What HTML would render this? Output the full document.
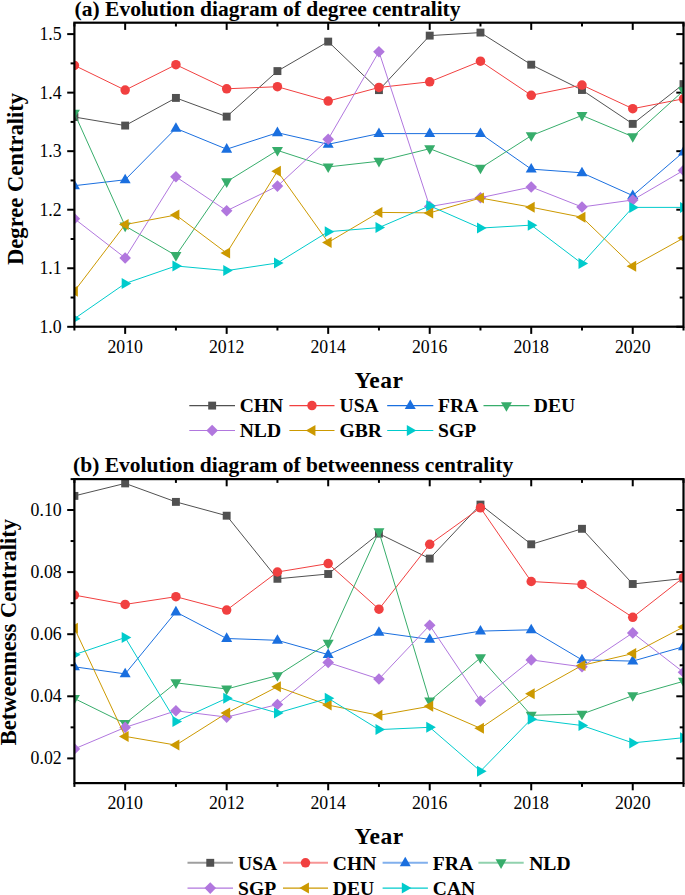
<!DOCTYPE html>
<html><head><meta charset="utf-8"><title>Centrality evolution</title>
<style>
html,body{margin:0;padding:0;background:#fff;}
body{width:685px;height:895px;overflow:hidden;}
svg{display:block;}
text{font-family:"Liberation Serif",serif;fill:#000;}
.tk{font-size:17.8px;}
.ttl{font-size:21.5px;font-weight:bold;}
.ax{font-size:22.6px;font-weight:bold;}
.yr{font-size:23.5px;font-weight:bold;letter-spacing:0.5px;}
.lg{font-size:19.6px;font-weight:bold;}
</style></head><body>
<svg width="685" height="895" viewBox="0 0 685 895">
<defs><clipPath id="ca"><rect x="74.40" y="22.70" width="609.10" height="304.00"/></clipPath>
<clipPath id="cb"><rect x="74.40" y="479.10" width="609.10" height="304.00"/></clipPath></defs>
<rect width="685" height="895" fill="#fff"/>
<text x="74.6" y="15.5" class="ttl">(a) Evolution diagram of degree centrality</text>
<line x1="74.40" y1="326.70" x2="74.40" y2="330.50" stroke="#000" stroke-width="2.0"/>
<line x1="74.40" y1="22.70" x2="74.40" y2="26.50" stroke="#000" stroke-width="2.0"/>
<line x1="125.16" y1="326.70" x2="125.16" y2="333.90" stroke="#000" stroke-width="2.0"/>
<line x1="125.16" y1="22.70" x2="125.16" y2="29.90" stroke="#000" stroke-width="2.0"/>
<line x1="175.92" y1="326.70" x2="175.92" y2="330.50" stroke="#000" stroke-width="2.0"/>
<line x1="175.92" y1="22.70" x2="175.92" y2="26.50" stroke="#000" stroke-width="2.0"/>
<line x1="226.67" y1="326.70" x2="226.67" y2="333.90" stroke="#000" stroke-width="2.0"/>
<line x1="226.67" y1="22.70" x2="226.67" y2="29.90" stroke="#000" stroke-width="2.0"/>
<line x1="277.43" y1="326.70" x2="277.43" y2="330.50" stroke="#000" stroke-width="2.0"/>
<line x1="277.43" y1="22.70" x2="277.43" y2="26.50" stroke="#000" stroke-width="2.0"/>
<line x1="328.19" y1="326.70" x2="328.19" y2="333.90" stroke="#000" stroke-width="2.0"/>
<line x1="328.19" y1="22.70" x2="328.19" y2="29.90" stroke="#000" stroke-width="2.0"/>
<line x1="378.95" y1="326.70" x2="378.95" y2="330.50" stroke="#000" stroke-width="2.0"/>
<line x1="378.95" y1="22.70" x2="378.95" y2="26.50" stroke="#000" stroke-width="2.0"/>
<line x1="429.71" y1="326.70" x2="429.71" y2="333.90" stroke="#000" stroke-width="2.0"/>
<line x1="429.71" y1="22.70" x2="429.71" y2="29.90" stroke="#000" stroke-width="2.0"/>
<line x1="480.46" y1="326.70" x2="480.46" y2="330.50" stroke="#000" stroke-width="2.0"/>
<line x1="480.46" y1="22.70" x2="480.46" y2="26.50" stroke="#000" stroke-width="2.0"/>
<line x1="531.22" y1="326.70" x2="531.22" y2="333.90" stroke="#000" stroke-width="2.0"/>
<line x1="531.22" y1="22.70" x2="531.22" y2="29.90" stroke="#000" stroke-width="2.0"/>
<line x1="581.98" y1="326.70" x2="581.98" y2="330.50" stroke="#000" stroke-width="2.0"/>
<line x1="581.98" y1="22.70" x2="581.98" y2="26.50" stroke="#000" stroke-width="2.0"/>
<line x1="632.74" y1="326.70" x2="632.74" y2="333.90" stroke="#000" stroke-width="2.0"/>
<line x1="632.74" y1="22.70" x2="632.74" y2="29.90" stroke="#000" stroke-width="2.0"/>
<line x1="683.50" y1="326.70" x2="683.50" y2="330.50" stroke="#000" stroke-width="2.0"/>
<line x1="683.50" y1="22.70" x2="683.50" y2="26.50" stroke="#000" stroke-width="2.0"/>
<line x1="67.20" y1="326.80" x2="74.40" y2="326.80" stroke="#000" stroke-width="2.0"/>
<line x1="676.30" y1="326.80" x2="683.50" y2="326.80" stroke="#000" stroke-width="2.0"/>
<line x1="67.20" y1="268.26" x2="74.40" y2="268.26" stroke="#000" stroke-width="2.0"/>
<line x1="676.30" y1="268.26" x2="683.50" y2="268.26" stroke="#000" stroke-width="2.0"/>
<line x1="67.20" y1="209.72" x2="74.40" y2="209.72" stroke="#000" stroke-width="2.0"/>
<line x1="676.30" y1="209.72" x2="683.50" y2="209.72" stroke="#000" stroke-width="2.0"/>
<line x1="67.20" y1="151.18" x2="74.40" y2="151.18" stroke="#000" stroke-width="2.0"/>
<line x1="676.30" y1="151.18" x2="683.50" y2="151.18" stroke="#000" stroke-width="2.0"/>
<line x1="67.20" y1="92.64" x2="74.40" y2="92.64" stroke="#000" stroke-width="2.0"/>
<line x1="676.30" y1="92.64" x2="683.50" y2="92.64" stroke="#000" stroke-width="2.0"/>
<line x1="67.20" y1="34.10" x2="74.40" y2="34.10" stroke="#000" stroke-width="2.0"/>
<line x1="676.30" y1="34.10" x2="683.50" y2="34.10" stroke="#000" stroke-width="2.0"/>
<line x1="70.60" y1="297.53" x2="74.40" y2="297.53" stroke="#000" stroke-width="2.0"/>
<line x1="679.70" y1="297.53" x2="683.50" y2="297.53" stroke="#000" stroke-width="2.0"/>
<line x1="70.60" y1="238.99" x2="74.40" y2="238.99" stroke="#000" stroke-width="2.0"/>
<line x1="679.70" y1="238.99" x2="683.50" y2="238.99" stroke="#000" stroke-width="2.0"/>
<line x1="70.60" y1="180.45" x2="74.40" y2="180.45" stroke="#000" stroke-width="2.0"/>
<line x1="679.70" y1="180.45" x2="683.50" y2="180.45" stroke="#000" stroke-width="2.0"/>
<line x1="70.60" y1="121.91" x2="74.40" y2="121.91" stroke="#000" stroke-width="2.0"/>
<line x1="679.70" y1="121.91" x2="683.50" y2="121.91" stroke="#000" stroke-width="2.0"/>
<line x1="70.60" y1="63.37" x2="74.40" y2="63.37" stroke="#000" stroke-width="2.0"/>
<line x1="679.70" y1="63.37" x2="683.50" y2="63.37" stroke="#000" stroke-width="2.0"/>
<g clip-path="url(#ca)"><polyline points="74.40,117.02 125.16,125.57 175.92,97.92 226.67,116.61 277.43,71.08 328.19,41.60 378.95,90.12 429.71,35.62 480.46,32.58 531.22,64.69 581.98,90.00 632.74,123.88 683.50,84.09" fill="none" stroke="#515151" stroke-width="1.0" stroke-linejoin="round"/>
<rect x="70.45" y="113.07" width="7.90" height="7.90" fill="#515151"/>
<rect x="121.21" y="121.62" width="7.90" height="7.90" fill="#515151"/>
<rect x="171.97" y="93.97" width="7.90" height="7.90" fill="#515151"/>
<rect x="222.72" y="112.66" width="7.90" height="7.90" fill="#515151"/>
<rect x="273.48" y="67.13" width="7.90" height="7.90" fill="#515151"/>
<rect x="324.24" y="37.65" width="7.90" height="7.90" fill="#515151"/>
<rect x="375.00" y="86.17" width="7.90" height="7.90" fill="#515151"/>
<rect x="425.76" y="31.67" width="7.90" height="7.90" fill="#515151"/>
<rect x="476.51" y="28.63" width="7.90" height="7.90" fill="#515151"/>
<rect x="527.27" y="60.74" width="7.90" height="7.90" fill="#515151"/>
<rect x="578.03" y="86.05" width="7.90" height="7.90" fill="#515151"/>
<rect x="628.79" y="119.93" width="7.90" height="7.90" fill="#515151"/>
<rect x="679.55" y="80.14" width="7.90" height="7.90" fill="#515151"/>
<polyline points="74.40,65.39 125.16,90.12 175.92,64.69 226.67,88.77 277.43,86.72 328.19,101.08 378.95,87.48 429.71,81.80 480.46,61.23 531.22,95.28 581.98,85.02 632.74,108.70 683.50,98.79" fill="none" stroke="#F14040" stroke-width="1.0" stroke-linejoin="round"/>
<circle cx="74.40" cy="65.39" r="4.75" fill="#F14040"/>
<circle cx="125.16" cy="90.12" r="4.75" fill="#F14040"/>
<circle cx="175.92" cy="64.69" r="4.75" fill="#F14040"/>
<circle cx="226.67" cy="88.77" r="4.75" fill="#F14040"/>
<circle cx="277.43" cy="86.72" r="4.75" fill="#F14040"/>
<circle cx="328.19" cy="101.08" r="4.75" fill="#F14040"/>
<circle cx="378.95" cy="87.48" r="4.75" fill="#F14040"/>
<circle cx="429.71" cy="81.80" r="4.75" fill="#F14040"/>
<circle cx="480.46" cy="61.23" r="4.75" fill="#F14040"/>
<circle cx="531.22" cy="95.28" r="4.75" fill="#F14040"/>
<circle cx="581.98" cy="85.02" r="4.75" fill="#F14040"/>
<circle cx="632.74" cy="108.70" r="4.75" fill="#F14040"/>
<circle cx="683.50" cy="98.79" r="4.75" fill="#F14040"/>
<polyline points="74.40,185.70 125.16,179.78 175.92,128.39 226.67,149.19 277.43,132.73 328.19,144.27 378.95,133.61 429.71,133.61 480.46,133.61 531.22,169.12 581.98,172.81 632.74,195.61 683.50,152.01" fill="none" stroke="#1A6FDF" stroke-width="1.0" stroke-linejoin="round"/>
<path d="M74.40 179.55L79.90 189.15L68.90 189.15Z" fill="#1A6FDF"/>
<path d="M125.16 173.64L130.66 183.24L119.66 183.24Z" fill="#1A6FDF"/>
<path d="M175.92 122.25L181.42 131.85L170.42 131.85Z" fill="#1A6FDF"/>
<path d="M226.67 143.05L232.17 152.65L221.17 152.65Z" fill="#1A6FDF"/>
<path d="M277.43 126.58L282.93 136.18L271.93 136.18Z" fill="#1A6FDF"/>
<path d="M328.19 138.13L333.69 147.73L322.69 147.73Z" fill="#1A6FDF"/>
<path d="M378.95 127.46L384.45 137.06L373.45 137.06Z" fill="#1A6FDF"/>
<path d="M429.71 127.46L435.21 137.06L424.21 137.06Z" fill="#1A6FDF"/>
<path d="M480.46 127.46L485.96 137.06L474.96 137.06Z" fill="#1A6FDF"/>
<path d="M531.22 162.97L536.72 172.57L525.72 172.57Z" fill="#1A6FDF"/>
<path d="M581.98 166.67L587.48 176.27L576.48 176.27Z" fill="#1A6FDF"/>
<path d="M632.74 189.46L638.24 199.06L627.24 199.06Z" fill="#1A6FDF"/>
<path d="M683.50 145.86L689.00 155.46L678.00 155.46Z" fill="#1A6FDF"/>
<polyline points="74.40,113.18 125.16,225.99 175.92,255.52 226.67,181.74 277.43,150.39 328.19,166.92 378.95,161.23 429.71,148.69 480.46,168.09 531.22,135.68 581.98,115.41 632.74,136.68 683.50,90.68" fill="none" stroke="#37AD6B" stroke-width="1.0" stroke-linejoin="round"/>
<path d="M74.40 119.33L79.90 109.73L68.90 109.73Z" fill="#37AD6B"/>
<path d="M125.16 232.13L130.66 222.53L119.66 222.53Z" fill="#37AD6B"/>
<path d="M175.92 261.67L181.42 252.07L170.42 252.07Z" fill="#37AD6B"/>
<path d="M226.67 187.89L232.17 178.29L221.17 178.29Z" fill="#37AD6B"/>
<path d="M277.43 156.54L282.93 146.94L271.93 146.94Z" fill="#37AD6B"/>
<path d="M328.19 173.06L333.69 163.46L322.69 163.46Z" fill="#37AD6B"/>
<path d="M378.95 167.38L384.45 157.78L373.45 157.78Z" fill="#37AD6B"/>
<path d="M429.71 154.84L435.21 145.24L424.21 145.24Z" fill="#37AD6B"/>
<path d="M480.46 174.23L485.96 164.63L474.96 164.63Z" fill="#37AD6B"/>
<path d="M531.22 141.83L536.72 132.23L525.72 132.23Z" fill="#37AD6B"/>
<path d="M581.98 121.55L587.48 111.95L576.48 111.95Z" fill="#37AD6B"/>
<path d="M632.74 142.82L638.24 133.22L627.24 133.22Z" fill="#37AD6B"/>
<path d="M683.50 96.82L689.00 87.22L678.00 87.22Z" fill="#37AD6B"/>
<polyline points="74.40,218.69 125.16,257.95 175.92,176.79 226.67,210.78 277.43,186.11 328.19,139.23 378.95,51.68 429.71,206.62 480.46,197.71 531.22,186.99 581.98,206.97 632.74,200.00 683.50,170.40" fill="none" stroke="#B177DE" stroke-width="1.0" stroke-linejoin="round"/>
<path d="M74.40 212.89L80.20 218.69L74.40 224.49L68.60 218.69Z" fill="#B177DE"/>
<path d="M125.16 252.15L130.96 257.95L125.16 263.75L119.36 257.95Z" fill="#B177DE"/>
<path d="M175.92 170.99L181.72 176.79L175.92 182.59L170.12 176.79Z" fill="#B177DE"/>
<path d="M226.67 204.98L232.47 210.78L226.67 216.58L220.87 210.78Z" fill="#B177DE"/>
<path d="M277.43 180.31L283.23 186.11L277.43 191.91L271.63 186.11Z" fill="#B177DE"/>
<path d="M328.19 133.43L333.99 139.23L328.19 145.03L322.39 139.23Z" fill="#B177DE"/>
<path d="M378.95 45.88L384.75 51.68L378.95 57.48L373.15 51.68Z" fill="#B177DE"/>
<path d="M429.71 200.82L435.51 206.62L429.71 212.42L423.91 206.62Z" fill="#B177DE"/>
<path d="M480.46 191.91L486.26 197.71L480.46 203.51L474.66 197.71Z" fill="#B177DE"/>
<path d="M531.22 181.19L537.02 186.99L531.22 192.79L525.42 186.99Z" fill="#B177DE"/>
<path d="M581.98 201.17L587.78 206.97L581.98 212.77L576.18 206.97Z" fill="#B177DE"/>
<path d="M632.74 194.20L638.54 200.00L632.74 205.80L626.94 200.00Z" fill="#B177DE"/>
<path d="M683.50 164.60L689.30 170.40L683.50 176.20L677.70 170.40Z" fill="#B177DE"/>
<polyline points="74.40,291.18 125.16,224.55 175.92,215.00 226.67,253.09 277.43,171.22 328.19,242.42 378.95,212.42 429.71,212.89 480.46,198.00 531.22,207.20 581.98,217.28 632.74,266.21 683.50,238.03" fill="none" stroke="#CC9900" stroke-width="1.0" stroke-linejoin="round"/>
<path d="M68.26 291.18L77.86 285.68L77.86 296.68Z" fill="#CC9900"/>
<path d="M119.01 224.55L128.61 219.05L128.61 230.05Z" fill="#CC9900"/>
<path d="M169.77 215.00L179.37 209.50L179.37 220.50Z" fill="#CC9900"/>
<path d="M220.53 253.09L230.13 247.59L230.13 258.59Z" fill="#CC9900"/>
<path d="M271.29 171.22L280.89 165.72L280.89 176.72Z" fill="#CC9900"/>
<path d="M322.05 242.42L331.65 236.92L331.65 247.92Z" fill="#CC9900"/>
<path d="M372.80 212.42L382.40 206.92L382.40 217.92Z" fill="#CC9900"/>
<path d="M423.56 212.89L433.16 207.39L433.16 218.39Z" fill="#CC9900"/>
<path d="M474.32 198.00L483.92 192.50L483.92 203.50Z" fill="#CC9900"/>
<path d="M525.08 207.20L534.68 201.70L534.68 212.70Z" fill="#CC9900"/>
<path d="M575.84 217.28L585.44 211.78L585.44 222.78Z" fill="#CC9900"/>
<path d="M626.59 266.21L636.19 260.71L636.19 271.71Z" fill="#CC9900"/>
<path d="M677.35 238.03L686.95 232.53L686.95 243.53Z" fill="#CC9900"/>
<polyline points="74.40,318.72 125.16,283.50 175.92,265.98 226.67,270.61 277.43,262.99 328.19,231.70 378.95,227.60 429.71,205.80 480.46,228.07 531.22,225.14 581.98,263.58 632.74,207.38 683.50,207.38" fill="none" stroke="#00CBCC" stroke-width="1.0" stroke-linejoin="round"/>
<path d="M80.54 318.72L70.94 313.22L70.94 324.22Z" fill="#00CBCC"/>
<path d="M131.30 283.50L121.70 278.00L121.70 289.00Z" fill="#00CBCC"/>
<path d="M182.06 265.98L172.46 260.48L172.46 271.48Z" fill="#00CBCC"/>
<path d="M232.82 270.61L223.22 265.11L223.22 276.11Z" fill="#00CBCC"/>
<path d="M283.58 262.99L273.98 257.49L273.98 268.49Z" fill="#00CBCC"/>
<path d="M334.33 231.70L324.73 226.20L324.73 237.20Z" fill="#00CBCC"/>
<path d="M385.09 227.60L375.49 222.10L375.49 233.10Z" fill="#00CBCC"/>
<path d="M435.85 205.80L426.25 200.30L426.25 211.30Z" fill="#00CBCC"/>
<path d="M486.61 228.07L477.01 222.57L477.01 233.57Z" fill="#00CBCC"/>
<path d="M537.37 225.14L527.77 219.64L527.77 230.64Z" fill="#00CBCC"/>
<path d="M588.12 263.58L578.52 258.08L578.52 269.08Z" fill="#00CBCC"/>
<path d="M638.88 207.38L629.28 201.88L629.28 212.88Z" fill="#00CBCC"/>
<path d="M689.64 207.38L680.04 201.88L680.04 212.88Z" fill="#00CBCC"/></g>
<rect x="74.40" y="22.70" width="609.10" height="304.00" fill="none" stroke="#000" stroke-width="2.2"/>
<text x="61.7" y="332.70" text-anchor="end" class="tk">1.0</text>
<text x="61.7" y="274.16" text-anchor="end" class="tk">1.1</text>
<text x="61.7" y="215.62" text-anchor="end" class="tk">1.2</text>
<text x="61.7" y="157.08" text-anchor="end" class="tk">1.3</text>
<text x="61.7" y="98.54" text-anchor="end" class="tk">1.4</text>
<text x="61.7" y="40.00" text-anchor="end" class="tk">1.5</text>
<text x="125.16" y="352.70" text-anchor="middle" class="tk">2010</text>
<text x="226.67" y="352.70" text-anchor="middle" class="tk">2012</text>
<text x="328.19" y="352.70" text-anchor="middle" class="tk">2014</text>
<text x="429.71" y="352.70" text-anchor="middle" class="tk">2016</text>
<text x="531.22" y="352.70" text-anchor="middle" class="tk">2018</text>
<text x="632.74" y="352.70" text-anchor="middle" class="tk">2020</text>
<text transform="translate(22.5 178.95) rotate(-90)" text-anchor="middle" class="ax">Degree Centrality</text>
<text x="379.0" y="387.5" text-anchor="middle" class="yr">Year</text>
<line x1="189.30" y1="405.60" x2="235.00" y2="405.60" stroke="#515151" stroke-width="1.15"/>
<rect x="208.20" y="401.65" width="7.90" height="7.90" fill="#515151"/>
<text x="239.70" y="412.30" class="lg">CHN</text>
<line x1="289.40" y1="405.60" x2="334.50" y2="405.60" stroke="#F14040" stroke-width="1.15"/>
<circle cx="311.95" cy="405.60" r="4.75" fill="#F14040"/>
<text x="339.50" y="412.30" class="lg">USA</text>
<line x1="387.20" y1="405.60" x2="433.30" y2="405.60" stroke="#1A6FDF" stroke-width="1.15"/>
<path d="M410.25 399.46L415.75 409.06L404.75 409.06Z" fill="#1A6FDF"/>
<text x="438.10" y="412.30" class="lg">FRA</text>
<line x1="483.50" y1="405.60" x2="529.40" y2="405.60" stroke="#37AD6B" stroke-width="1.15"/>
<path d="M506.45 411.74L511.95 402.14L500.95 402.14Z" fill="#37AD6B"/>
<text x="533.80" y="412.30" class="lg">DEU</text>
<line x1="189.30" y1="430.50" x2="235.00" y2="430.50" stroke="#B177DE" stroke-width="1.15"/>
<path d="M212.15 424.70L217.95 430.50L212.15 436.30L206.35 430.50Z" fill="#B177DE"/>
<text x="239.70" y="437.20" class="lg">NLD</text>
<line x1="289.40" y1="430.50" x2="334.50" y2="430.50" stroke="#CC9900" stroke-width="1.15"/>
<path d="M305.81 430.50L315.41 425.00L315.41 436.00Z" fill="#CC9900"/>
<text x="339.50" y="437.20" class="lg">GBR</text>
<line x1="387.20" y1="430.50" x2="433.30" y2="430.50" stroke="#00CBCC" stroke-width="1.15"/>
<path d="M416.39 430.50L406.79 425.00L406.79 436.00Z" fill="#00CBCC"/>
<text x="438.10" y="437.20" class="lg">SGP</text>
<text x="73.1" y="471.9" class="ttl">(b) Evolution diagram of betweenness centrality</text>
<line x1="74.40" y1="783.10" x2="74.40" y2="786.90" stroke="#000" stroke-width="2.0"/>
<line x1="74.40" y1="479.10" x2="74.40" y2="482.90" stroke="#000" stroke-width="2.0"/>
<line x1="125.16" y1="783.10" x2="125.16" y2="790.30" stroke="#000" stroke-width="2.0"/>
<line x1="125.16" y1="479.10" x2="125.16" y2="486.30" stroke="#000" stroke-width="2.0"/>
<line x1="175.92" y1="783.10" x2="175.92" y2="786.90" stroke="#000" stroke-width="2.0"/>
<line x1="175.92" y1="479.10" x2="175.92" y2="482.90" stroke="#000" stroke-width="2.0"/>
<line x1="226.67" y1="783.10" x2="226.67" y2="790.30" stroke="#000" stroke-width="2.0"/>
<line x1="226.67" y1="479.10" x2="226.67" y2="486.30" stroke="#000" stroke-width="2.0"/>
<line x1="277.43" y1="783.10" x2="277.43" y2="786.90" stroke="#000" stroke-width="2.0"/>
<line x1="277.43" y1="479.10" x2="277.43" y2="482.90" stroke="#000" stroke-width="2.0"/>
<line x1="328.19" y1="783.10" x2="328.19" y2="790.30" stroke="#000" stroke-width="2.0"/>
<line x1="328.19" y1="479.10" x2="328.19" y2="486.30" stroke="#000" stroke-width="2.0"/>
<line x1="378.95" y1="783.10" x2="378.95" y2="786.90" stroke="#000" stroke-width="2.0"/>
<line x1="378.95" y1="479.10" x2="378.95" y2="482.90" stroke="#000" stroke-width="2.0"/>
<line x1="429.71" y1="783.10" x2="429.71" y2="790.30" stroke="#000" stroke-width="2.0"/>
<line x1="429.71" y1="479.10" x2="429.71" y2="486.30" stroke="#000" stroke-width="2.0"/>
<line x1="480.46" y1="783.10" x2="480.46" y2="786.90" stroke="#000" stroke-width="2.0"/>
<line x1="480.46" y1="479.10" x2="480.46" y2="482.90" stroke="#000" stroke-width="2.0"/>
<line x1="531.22" y1="783.10" x2="531.22" y2="790.30" stroke="#000" stroke-width="2.0"/>
<line x1="531.22" y1="479.10" x2="531.22" y2="486.30" stroke="#000" stroke-width="2.0"/>
<line x1="581.98" y1="783.10" x2="581.98" y2="786.90" stroke="#000" stroke-width="2.0"/>
<line x1="581.98" y1="479.10" x2="581.98" y2="482.90" stroke="#000" stroke-width="2.0"/>
<line x1="632.74" y1="783.10" x2="632.74" y2="790.30" stroke="#000" stroke-width="2.0"/>
<line x1="632.74" y1="479.10" x2="632.74" y2="486.30" stroke="#000" stroke-width="2.0"/>
<line x1="683.50" y1="783.10" x2="683.50" y2="786.90" stroke="#000" stroke-width="2.0"/>
<line x1="683.50" y1="479.10" x2="683.50" y2="482.90" stroke="#000" stroke-width="2.0"/>
<line x1="67.20" y1="758.40" x2="74.40" y2="758.40" stroke="#000" stroke-width="2.0"/>
<line x1="676.30" y1="758.40" x2="683.50" y2="758.40" stroke="#000" stroke-width="2.0"/>
<line x1="67.20" y1="696.30" x2="74.40" y2="696.30" stroke="#000" stroke-width="2.0"/>
<line x1="676.30" y1="696.30" x2="683.50" y2="696.30" stroke="#000" stroke-width="2.0"/>
<line x1="67.20" y1="634.20" x2="74.40" y2="634.20" stroke="#000" stroke-width="2.0"/>
<line x1="676.30" y1="634.20" x2="683.50" y2="634.20" stroke="#000" stroke-width="2.0"/>
<line x1="67.20" y1="572.10" x2="74.40" y2="572.10" stroke="#000" stroke-width="2.0"/>
<line x1="676.30" y1="572.10" x2="683.50" y2="572.10" stroke="#000" stroke-width="2.0"/>
<line x1="67.20" y1="510.00" x2="74.40" y2="510.00" stroke="#000" stroke-width="2.0"/>
<line x1="676.30" y1="510.00" x2="683.50" y2="510.00" stroke="#000" stroke-width="2.0"/>
<line x1="70.60" y1="727.35" x2="74.40" y2="727.35" stroke="#000" stroke-width="2.0"/>
<line x1="679.70" y1="727.35" x2="683.50" y2="727.35" stroke="#000" stroke-width="2.0"/>
<line x1="70.60" y1="665.25" x2="74.40" y2="665.25" stroke="#000" stroke-width="2.0"/>
<line x1="679.70" y1="665.25" x2="683.50" y2="665.25" stroke="#000" stroke-width="2.0"/>
<line x1="70.60" y1="603.15" x2="74.40" y2="603.15" stroke="#000" stroke-width="2.0"/>
<line x1="679.70" y1="603.15" x2="683.50" y2="603.15" stroke="#000" stroke-width="2.0"/>
<line x1="70.60" y1="541.05" x2="74.40" y2="541.05" stroke="#000" stroke-width="2.0"/>
<line x1="679.70" y1="541.05" x2="683.50" y2="541.05" stroke="#000" stroke-width="2.0"/>
<line x1="70.60" y1="479.10" x2="74.40" y2="479.10" stroke="#000" stroke-width="2.0"/>
<line x1="679.70" y1="479.10" x2="683.50" y2="479.10" stroke="#000" stroke-width="2.0"/>
<g clip-path="url(#cb)"><polyline points="74.40,495.90 125.16,483.40 175.92,501.90 226.67,515.70 277.43,578.80 328.19,574.00 378.95,533.60 429.71,558.60 480.46,504.60 531.22,544.30 581.98,528.80 632.74,584.00 683.50,578.50" fill="none" stroke="#515151" stroke-width="1.0" stroke-linejoin="round"/>
<rect x="70.45" y="491.95" width="7.90" height="7.90" fill="#515151"/>
<rect x="121.21" y="479.45" width="7.90" height="7.90" fill="#515151"/>
<rect x="171.97" y="497.95" width="7.90" height="7.90" fill="#515151"/>
<rect x="222.72" y="511.75" width="7.90" height="7.90" fill="#515151"/>
<rect x="273.48" y="574.85" width="7.90" height="7.90" fill="#515151"/>
<rect x="324.24" y="570.05" width="7.90" height="7.90" fill="#515151"/>
<rect x="375.00" y="529.65" width="7.90" height="7.90" fill="#515151"/>
<rect x="425.76" y="554.65" width="7.90" height="7.90" fill="#515151"/>
<rect x="476.51" y="500.65" width="7.90" height="7.90" fill="#515151"/>
<rect x="527.27" y="540.35" width="7.90" height="7.90" fill="#515151"/>
<rect x="578.03" y="524.85" width="7.90" height="7.90" fill="#515151"/>
<rect x="628.79" y="580.05" width="7.90" height="7.90" fill="#515151"/>
<rect x="679.55" y="574.55" width="7.90" height="7.90" fill="#515151"/>
<polyline points="74.40,595.10 125.16,604.40 175.92,596.70 226.67,610.10 277.43,572.00 328.19,563.60 378.95,609.20 429.71,544.30 480.46,507.80 531.22,581.50 581.98,584.40 632.74,617.30 683.50,577.50" fill="none" stroke="#F14040" stroke-width="1.0" stroke-linejoin="round"/>
<circle cx="74.40" cy="595.10" r="4.75" fill="#F14040"/>
<circle cx="125.16" cy="604.40" r="4.75" fill="#F14040"/>
<circle cx="175.92" cy="596.70" r="4.75" fill="#F14040"/>
<circle cx="226.67" cy="610.10" r="4.75" fill="#F14040"/>
<circle cx="277.43" cy="572.00" r="4.75" fill="#F14040"/>
<circle cx="328.19" cy="563.60" r="4.75" fill="#F14040"/>
<circle cx="378.95" cy="609.20" r="4.75" fill="#F14040"/>
<circle cx="429.71" cy="544.30" r="4.75" fill="#F14040"/>
<circle cx="480.46" cy="507.80" r="4.75" fill="#F14040"/>
<circle cx="531.22" cy="581.50" r="4.75" fill="#F14040"/>
<circle cx="581.98" cy="584.40" r="4.75" fill="#F14040"/>
<circle cx="632.74" cy="617.30" r="4.75" fill="#F14040"/>
<circle cx="683.50" cy="577.50" r="4.75" fill="#F14040"/>
<polyline points="74.40,666.80 125.16,673.90 175.92,612.00 226.67,638.50 277.43,640.30 328.19,654.60 378.95,632.30 429.71,639.40 480.46,631.10 531.22,629.80 581.98,659.90 632.74,661.10 683.50,646.70" fill="none" stroke="#1A6FDF" stroke-width="1.0" stroke-linejoin="round"/>
<path d="M74.40 660.66L79.90 670.26L68.90 670.26Z" fill="#1A6FDF"/>
<path d="M125.16 667.76L130.66 677.36L119.66 677.36Z" fill="#1A6FDF"/>
<path d="M175.92 605.86L181.42 615.46L170.42 615.46Z" fill="#1A6FDF"/>
<path d="M226.67 632.36L232.17 641.96L221.17 641.96Z" fill="#1A6FDF"/>
<path d="M277.43 634.16L282.93 643.76L271.93 643.76Z" fill="#1A6FDF"/>
<path d="M328.19 648.46L333.69 658.06L322.69 658.06Z" fill="#1A6FDF"/>
<path d="M378.95 626.16L384.45 635.76L373.45 635.76Z" fill="#1A6FDF"/>
<path d="M429.71 633.26L435.21 642.86L424.21 642.86Z" fill="#1A6FDF"/>
<path d="M480.46 624.96L485.96 634.56L474.96 634.56Z" fill="#1A6FDF"/>
<path d="M531.22 623.66L536.72 633.26L525.72 633.26Z" fill="#1A6FDF"/>
<path d="M581.98 653.76L587.48 663.36L576.48 663.36Z" fill="#1A6FDF"/>
<path d="M632.74 654.96L638.24 664.56L627.24 664.56Z" fill="#1A6FDF"/>
<path d="M683.50 640.56L689.00 650.16L678.00 650.16Z" fill="#1A6FDF"/>
<polyline points="74.40,698.50 125.16,723.50 175.92,682.80 226.67,689.00 277.43,675.60 328.19,643.10 378.95,531.60 429.71,701.00 480.46,657.80 531.22,715.30 581.98,714.10 632.74,695.70 683.50,681.30" fill="none" stroke="#37AD6B" stroke-width="1.0" stroke-linejoin="round"/>
<path d="M74.40 704.64L79.90 695.04L68.90 695.04Z" fill="#37AD6B"/>
<path d="M125.16 729.64L130.66 720.04L119.66 720.04Z" fill="#37AD6B"/>
<path d="M175.92 688.94L181.42 679.34L170.42 679.34Z" fill="#37AD6B"/>
<path d="M226.67 695.14L232.17 685.54L221.17 685.54Z" fill="#37AD6B"/>
<path d="M277.43 681.74L282.93 672.14L271.93 672.14Z" fill="#37AD6B"/>
<path d="M328.19 649.24L333.69 639.64L322.69 639.64Z" fill="#37AD6B"/>
<path d="M378.95 537.74L384.45 528.14L373.45 528.14Z" fill="#37AD6B"/>
<path d="M429.71 707.14L435.21 697.54L424.21 697.54Z" fill="#37AD6B"/>
<path d="M480.46 663.94L485.96 654.34L474.96 654.34Z" fill="#37AD6B"/>
<path d="M531.22 721.44L536.72 711.84L525.72 711.84Z" fill="#37AD6B"/>
<path d="M581.98 720.24L587.48 710.64L576.48 710.64Z" fill="#37AD6B"/>
<path d="M632.74 701.84L638.24 692.24L627.24 692.24Z" fill="#37AD6B"/>
<path d="M683.50 687.44L689.00 677.84L678.00 677.84Z" fill="#37AD6B"/>
<polyline points="74.40,748.90 125.16,727.40 175.92,710.80 226.67,717.10 277.43,704.50 328.19,662.50 378.95,679.00 429.71,625.30 480.46,701.00 531.22,659.90 581.98,666.80 632.74,632.90 683.50,672.30" fill="none" stroke="#B177DE" stroke-width="1.0" stroke-linejoin="round"/>
<path d="M74.40 743.10L80.20 748.90L74.40 754.70L68.60 748.90Z" fill="#B177DE"/>
<path d="M125.16 721.60L130.96 727.40L125.16 733.20L119.36 727.40Z" fill="#B177DE"/>
<path d="M175.92 705.00L181.72 710.80L175.92 716.60L170.12 710.80Z" fill="#B177DE"/>
<path d="M226.67 711.30L232.47 717.10L226.67 722.90L220.87 717.10Z" fill="#B177DE"/>
<path d="M277.43 698.70L283.23 704.50L277.43 710.30L271.63 704.50Z" fill="#B177DE"/>
<path d="M328.19 656.70L333.99 662.50L328.19 668.30L322.39 662.50Z" fill="#B177DE"/>
<path d="M378.95 673.20L384.75 679.00L378.95 684.80L373.15 679.00Z" fill="#B177DE"/>
<path d="M429.71 619.50L435.51 625.30L429.71 631.10L423.91 625.30Z" fill="#B177DE"/>
<path d="M480.46 695.20L486.26 701.00L480.46 706.80L474.66 701.00Z" fill="#B177DE"/>
<path d="M531.22 654.10L537.02 659.90L531.22 665.70L525.42 659.90Z" fill="#B177DE"/>
<path d="M581.98 661.00L587.78 666.80L581.98 672.60L576.18 666.80Z" fill="#B177DE"/>
<path d="M632.74 627.10L638.54 632.90L632.74 638.70L626.94 632.90Z" fill="#B177DE"/>
<path d="M683.50 666.50L689.30 672.30L683.50 678.10L677.70 672.30Z" fill="#B177DE"/>
<polyline points="74.40,628.20 125.16,736.40 175.92,745.10 226.67,713.10 277.43,686.70 328.19,705.10 378.95,715.30 429.71,706.30 480.46,728.30 531.22,693.80 581.98,665.40 632.74,653.60 683.50,627.00" fill="none" stroke="#CC9900" stroke-width="1.0" stroke-linejoin="round"/>
<path d="M68.26 628.20L77.86 622.70L77.86 633.70Z" fill="#CC9900"/>
<path d="M119.01 736.40L128.61 730.90L128.61 741.90Z" fill="#CC9900"/>
<path d="M169.77 745.10L179.37 739.60L179.37 750.60Z" fill="#CC9900"/>
<path d="M220.53 713.10L230.13 707.60L230.13 718.60Z" fill="#CC9900"/>
<path d="M271.29 686.70L280.89 681.20L280.89 692.20Z" fill="#CC9900"/>
<path d="M322.05 705.10L331.65 699.60L331.65 710.60Z" fill="#CC9900"/>
<path d="M372.80 715.30L382.40 709.80L382.40 720.80Z" fill="#CC9900"/>
<path d="M423.56 706.30L433.16 700.80L433.16 711.80Z" fill="#CC9900"/>
<path d="M474.32 728.30L483.92 722.80L483.92 733.80Z" fill="#CC9900"/>
<path d="M525.08 693.80L534.68 688.30L534.68 699.30Z" fill="#CC9900"/>
<path d="M575.84 665.40L585.44 659.90L585.44 670.90Z" fill="#CC9900"/>
<path d="M626.59 653.60L636.19 648.10L636.19 659.10Z" fill="#CC9900"/>
<path d="M677.35 627.00L686.95 621.50L686.95 632.50Z" fill="#CC9900"/>
<polyline points="74.40,654.70 125.16,637.50 175.92,721.50 226.67,698.30 277.43,713.00 328.19,698.30 378.95,729.60 429.71,727.30 480.46,771.20 531.22,719.20 581.98,725.50 632.74,742.90 683.50,737.70" fill="none" stroke="#00CBCC" stroke-width="1.0" stroke-linejoin="round"/>
<path d="M80.54 654.70L70.94 649.20L70.94 660.20Z" fill="#00CBCC"/>
<path d="M131.30 637.50L121.70 632.00L121.70 643.00Z" fill="#00CBCC"/>
<path d="M182.06 721.50L172.46 716.00L172.46 727.00Z" fill="#00CBCC"/>
<path d="M232.82 698.30L223.22 692.80L223.22 703.80Z" fill="#00CBCC"/>
<path d="M283.58 713.00L273.98 707.50L273.98 718.50Z" fill="#00CBCC"/>
<path d="M334.33 698.30L324.73 692.80L324.73 703.80Z" fill="#00CBCC"/>
<path d="M385.09 729.60L375.49 724.10L375.49 735.10Z" fill="#00CBCC"/>
<path d="M435.85 727.30L426.25 721.80L426.25 732.80Z" fill="#00CBCC"/>
<path d="M486.61 771.20L477.01 765.70L477.01 776.70Z" fill="#00CBCC"/>
<path d="M537.37 719.20L527.77 713.70L527.77 724.70Z" fill="#00CBCC"/>
<path d="M588.12 725.50L578.52 720.00L578.52 731.00Z" fill="#00CBCC"/>
<path d="M638.88 742.90L629.28 737.40L629.28 748.40Z" fill="#00CBCC"/>
<path d="M689.64 737.70L680.04 732.20L680.04 743.20Z" fill="#00CBCC"/></g>
<rect x="74.40" y="479.10" width="609.10" height="304.00" fill="none" stroke="#000" stroke-width="2.2"/>
<text x="61.7" y="764.30" text-anchor="end" class="tk">0.02</text>
<text x="61.7" y="702.20" text-anchor="end" class="tk">0.04</text>
<text x="61.7" y="640.10" text-anchor="end" class="tk">0.06</text>
<text x="61.7" y="578.00" text-anchor="end" class="tk">0.08</text>
<text x="61.7" y="515.90" text-anchor="end" class="tk">0.10</text>
<text x="125.16" y="809.10" text-anchor="middle" class="tk">2010</text>
<text x="226.67" y="809.10" text-anchor="middle" class="tk">2012</text>
<text x="328.19" y="809.10" text-anchor="middle" class="tk">2014</text>
<text x="429.71" y="809.10" text-anchor="middle" class="tk">2016</text>
<text x="531.22" y="809.10" text-anchor="middle" class="tk">2018</text>
<text x="632.74" y="809.10" text-anchor="middle" class="tk">2020</text>
<text transform="translate(16 632.1) rotate(-90)" text-anchor="middle" class="ax">Betweenness Centrality</text>
<text x="379.1" y="843.9" text-anchor="middle" class="yr">Year</text>
<line x1="187.50" y1="862.80" x2="233.00" y2="862.80" stroke="#515151" stroke-width="2" stroke-opacity="0.55"/>
<rect x="206.30" y="858.85" width="7.90" height="7.90" fill="#515151"/>
<text x="238.00" y="869.50" class="lg">USA</text>
<line x1="283.00" y1="862.80" x2="328.00" y2="862.80" stroke="#F14040" stroke-width="2" stroke-opacity="0.55"/>
<circle cx="305.50" cy="862.80" r="4.75" fill="#F14040"/>
<text x="332.80" y="869.50" class="lg">CHN</text>
<line x1="382.60" y1="862.80" x2="427.90" y2="862.80" stroke="#1A6FDF" stroke-width="2" stroke-opacity="0.55"/>
<path d="M405.25 856.66L410.75 866.26L399.75 866.26Z" fill="#1A6FDF"/>
<text x="432.80" y="869.50" class="lg">FRA</text>
<line x1="478.40" y1="862.80" x2="523.70" y2="862.80" stroke="#37AD6B" stroke-width="2" stroke-opacity="0.55"/>
<path d="M501.05 868.94L506.55 859.34L495.55 859.34Z" fill="#37AD6B"/>
<text x="529.20" y="869.50" class="lg">NLD</text>
<line x1="187.50" y1="888.10" x2="233.00" y2="888.10" stroke="#B177DE" stroke-width="1.15"/>
<path d="M210.25 882.30L216.05 888.10L210.25 893.90L204.45 888.10Z" fill="#B177DE"/>
<text x="238.00" y="894.80" class="lg">SGP</text>
<line x1="283.00" y1="888.10" x2="328.00" y2="888.10" stroke="#CC9900" stroke-width="1.15"/>
<path d="M299.36 888.10L308.96 882.60L308.96 893.60Z" fill="#CC9900"/>
<text x="332.80" y="894.80" class="lg">DEU</text>
<line x1="382.60" y1="888.10" x2="427.90" y2="888.10" stroke="#00CBCC" stroke-width="1.15"/>
<path d="M411.39 888.10L401.79 882.60L401.79 893.60Z" fill="#00CBCC"/>
<text x="432.80" y="894.80" class="lg">CAN</text>
</svg>
</body></html>
